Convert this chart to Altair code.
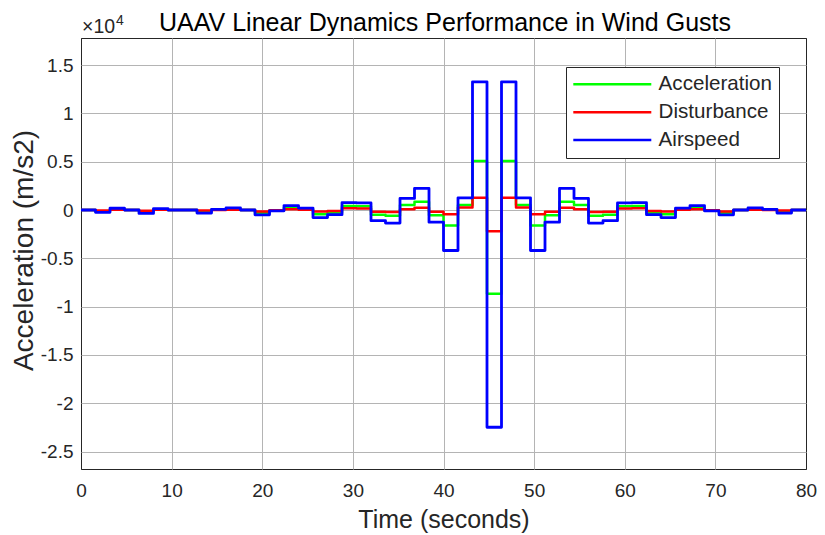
import altair as alt
import pandas as pd

# step start times (seconds); the last point closes the final step at 80 s
step_times = [0, 1.6, 3.2, 4.8, 6.4, 8, 9.6, 11.2, 12.8, 14.4, 16, 17.6, 19.2, 20.8,
              22.4, 24, 25.6, 27.2, 28.8, 30.4, 32, 33.6, 35.2, 36.8, 38.4, 40, 41.6,
              43.2, 44.8, 46.4, 48, 49.6, 51.2, 52.8, 54.4, 56, 57.6, 59.2, 60.8, 62.4,
              64, 65.6, 67.2, 68.8, 70.4, 72, 73.6, 75.2, 76.8, 78.4]
end_time = 80

acceleration = [0, -120, 90, 0, -180, 70, 0, 0, -170, 30, 110, 0, -300, -60, 250, 100,
                -450, -300, 420, 400, -480, -600, 518, 860, -540, -1590, 518, 5080,
                -8670, 5080, 518, -1590, -540, 860, 518, -600, -480, 400, 420, -300,
                -450, 100, 250, -60, -300, 0, 110, 30, -170, 0]

disturbance = [0, -50, 30, 0, -70, 30, 0, 0, -60, 10, 40, 0, -150, -20, 80, 40,
               -160, -110, 170, 150, -170, -200, 70, 240, -170, -450, 260, 1280,
               -2200, 1280, 260, -450, -170, 240, 70, -200, -170, 150, 170, -110,
               -160, 40, 80, -20, -150, 0, 40, 10, -60, 0]

airspeed = [0, -240, 180, 0, -350, 150, 0, 0, -320, 70, 220, 0, -500, -80, 460, 200,
            -780, -480, 760, 730, -1100, -1350, 1200, 2230, -1260, -4190, 1260, 13260,
            -22480, 13260, 1260, -4190, -1260, 2230, 1200, -1350, -1100, 730, 760, -480,
            -780, 200, 460, -80, -500, 0, 220, 70, -320, 0]

series_names = ["Acceleration", "Disturbance", "Airspeed"]
series_colors = ["#00ff00", "#ff0000", "#0000ff"]
x_ticks = [0, 10, 20, 30, 40, 50, 60, 70, 80]
y_ticks = [-25000, -20000, -15000, -10000, -5000, 0, 5000, 10000, 15000]
y_domain = [-26800, 17800]
x_domain = [0, 80]

title_text = "UAAV Linear Dynamics Performance in Wind Gusts"
exp_base = "×10"
exp_power = "4"

rows = []
for name, vals in zip(series_names, [acceleration, disturbance, airspeed]):
    for t, v in zip(step_times, vals):
        rows.append({"t": t, "v": v, "series": name})
    rows.append({"t": end_time, "v": vals[-1], "series": name})
df = pd.DataFrame(rows)

FONT = "Liberation Sans"
DARK = "#262626"

x_enc = alt.X(
    "t:Q",
    scale=alt.Scale(domain=x_domain, nice=False, zero=False),
    axis=alt.Axis(
        values=x_ticks, title="Time (seconds)",
        labelFont=FONT, labelFontSize=19, labelColor=DARK,
        labelBaseline="alphabetic", labelPadding=27, labelFlush=False,
        ticks=False, tickSize=0, domain=False,
        grid=True, gridWidth=1,
        gridColor=alt.condition("datum.value == 0 || datum.value == 80",
                                alt.value(DARK), alt.value("#b4b4b4")),
        titleFont=FONT, titleFontSize=25, titleColor=DARK, titleFontWeight="normal",
        titleBaseline="alphabetic", titleY=58,
    ),
)
y_enc = alt.Y(
    "v:Q",
    scale=alt.Scale(domain=y_domain, nice=False, zero=False),
    axis=alt.Axis(
        values=y_ticks, labelExpr="'' + (datum.value / 10000)",
        title="Acceleration (m/s2)",
        labelFont=FONT, labelFontSize=19, labelColor=DARK, labelPadding=8,
        ticks=False, tickSize=0, domain=False,
        grid=True, gridWidth=1, gridColor="#b4b4b4",
        titleFont=FONT, titleFontSize=28, titleColor=DARK, titleFontWeight="normal",
        titleBaseline="alphabetic", titleX=-49, titleY=212, titleAngle=270,
    ),
)
color_enc = alt.Color(
    "series:N",
    scale=alt.Scale(domain=series_names, range=series_colors),
    title=None,
    legend=alt.Legend(
        orient="none", legendX=485, legendY=29,
        symbolType="M-2,0H13.6", symbolSize=100, symbolStrokeWidth=2.5,
        labelOffset=65, labelFont=FONT, labelFontSize=20.6, labelColor=DARK,
        padding=7, rowPadding=6.9, strokeColor=DARK, fillColor="white",
    ),
)

base = alt.Chart(df)
layers = []
for name, w in zip(series_names, [2.5, 2.5, 2.8]):
    layers.append(
        base.transform_filter(alt.datum.series == name)
        .mark_line(interpolate="step-after", strokeWidth=w, strokeJoin="round")
        .encode(x=x_enc, y=y_enc, color=color_enc)
    )

title_layer = alt.Chart(pd.DataFrame({"label": [title_text]})).mark_text(
    font=FONT, fontSize=25, color="#000000", align="center", baseline="alphabetic"
).encode(text="label:N", x=alt.value(364), y=alt.value(-7.2))

exp_layer = alt.Chart(pd.DataFrame({"label": [exp_base]})).mark_text(
    font=FONT, fontSize=19.5, color=DARK, align="left", baseline="alphabetic"
).encode(text="label:N", x=alt.value(1), y=alt.value(-5))

pow_layer = alt.Chart(pd.DataFrame({"label": [exp_power]})).mark_text(
    font=FONT, fontSize=14, color=DARK, align="left", baseline="alphabetic"
).encode(text="label:N", x=alt.value(35), y=alt.value(-13))

chart = alt.layer(*layers, title_layer, exp_layer, pow_layer).properties(
    width=725, height=431,
    autosize=alt.AutoSizeParams(type="none"),
    padding={"left": 73, "top": 30, "right": 11, "bottom": 66},
    background="white",
).configure_view(stroke=DARK, strokeWidth=1)

chart.save("out.html", embed_options={"renderer": "svg", "actions": False})
